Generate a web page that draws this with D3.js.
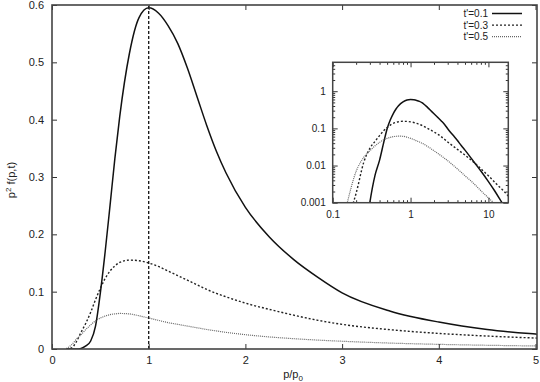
<!DOCTYPE html>
<html>
<head>
<meta charset="utf-8">
<script src="https://cdn.jsdelivr.net/npm/d3@7"></script>
<style>
  body { margin: 0; background: #fff; }
  text { font-family: "Liberation Sans", Arial, sans-serif; fill: #222; }
</style>
</head>
<body>
<svg id="chart" width="540" height="382"></svg>
<script>
// momentum grid (p/p0) shared by the three curves
const pValues = [0.15, 0.2, 0.25, 0.3, 0.35, 0.4, 0.45, 0.5, 0.55, 0.6, 0.65, 0.7, 0.8, 0.9, 1.0,
  1.1, 1.2, 1.3, 1.4, 1.5, 1.6, 1.7, 1.8, 2.0, 2.25, 2.5, 2.75, 3.0, 3.5, 4.0, 4.5, 5.0,
  6, 7, 8, 10, 12, 14, 16, 18]

const valuesT01 = [0, 0, 0.00005, 0.001, 0.0055, 0.014, 0.04, 0.098, 0.17, 0.25, 0.332, 0.405, 0.515, 0.578, 0.595,
  0.586, 0.564, 0.533, 0.49, 0.44, 0.39, 0.345, 0.307, 0.247, 0.195, 0.156, 0.125, 0.098, 0.066, 0.047, 0.034, 0.026,
  0.0158, 0.0103, 0.0071, 0.0037, 0.0021, 0.00125, 0.00078, 0.0005]
const valuesT03 = [0.0003, 0.0018, 0.012, 0.029, 0.045, 0.064, 0.086, 0.106, 0.123, 0.136, 0.145, 0.151, 0.155, 0.154, 0.15,
  0.144, 0.136, 0.128, 0.12, 0.112, 0.104, 0.097, 0.091, 0.08, 0.069, 0.059, 0.05, 0.043, 0.0336, 0.0272, 0.0226, 0.0191,
  0.014, 0.0106, 0.0082, 0.0053, 0.0036, 0.0026, 0.002, 0.0015]
const valuesT05 = [0.0008, 0.007, 0.0165, 0.025, 0.034, 0.042, 0.049, 0.054, 0.0575, 0.06, 0.0612, 0.062, 0.0612, 0.058, 0.054,
  0.05, 0.046, 0.043, 0.04, 0.037, 0.034, 0.0315, 0.029, 0.025, 0.021, 0.018, 0.0155, 0.0135, 0.0103, 0.0081, 0.0065, 0.0053,
  0.0038, 0.0028, 0.0021, 0.00135, 0.00094, 0.00069, 0.00052, 0.0004]

const seriesLabels = ["t'=0.1", "t'=0.3", "t'=0.5"]
const markerP = 1

const mainXTicks = [0, 1, 2, 3, 4, 5]
const mainYTicks = [0, 0.1, 0.2, 0.3, 0.4, 0.5, 0.6]
const insetXTicks = [0.1, 1, 10]
const insetYTicks = [0.001, 0.01, 0.1, 1]

const styles = [
  { stroke: '#111', width: 1.5, dash: null },
  { stroke: '#222', width: 1.4, dash: '2,2' },
  { stroke: '#666', width: 1.2, dash: '1,1' },
]

const series = [valuesT01, valuesT03, valuesT05].map((vals, i) => ({
  label: seriesLabels[i],
  style: styles[i],
  points: pValues.map((p, j) => ({ p, v: vals[j] })),
}))

const svg = d3.select('#chart')

// ---- main plot
const main = { left: 52, right: 537, top: 5, bottom: 349 }
const x = d3.scaleLinear().domain([0, 5]).range([main.left, main.right - 1.5])
const y = d3.scaleLinear().domain([0, 0.6]).range([main.bottom, main.top])

svg.append('clipPath').attr('id', 'clipMain')
  .append('rect')
  .attr('x', main.left).attr('y', main.top)
  .attr('width', main.right - main.left).attr('height', main.bottom - main.top)

const mainLine = d3.line()
  .x(d => x(d.p))
  .y(d => y(d.v))
  .curve(d3.curveMonotoneX)

const mainCurves = svg.append('g').attr('clip-path', 'url(#clipMain)')
series.forEach(s => {
  mainCurves.append('path')
    .datum(s.points.filter(d => d.p <= 6))
    .attr('d', mainLine)
    .attr('fill', 'none')
    .attr('stroke', s.style.stroke)
    .attr('stroke-width', s.style.width)
    .attr('stroke-dasharray', s.style.dash)
})

svg.append('line')
  .attr('x1', x(markerP)).attr('x2', x(markerP))
  .attr('y1', y(0)).attr('y2', y(0.6))
  .attr('stroke', '#111')
  .attr('stroke-width', 1.3)
  .attr('stroke-dasharray', '3,2')

function styleAxis(g) {
  g.select('.domain').remove()
  g.selectAll('line').attr('stroke', '#333').attr('stroke-width', 1)
  g.selectAll('text').attr('fill', '#222')
}

const yFmt = d => (d === 0 ? '0' : d3.format('.1f')(d))

svg.append('g')
  .attr('transform', `translate(0,${main.bottom})`)
  .call(d3.axisBottom(x).tickValues(mainXTicks).tickFormat(d3.format('d'))
    .tickSizeInner(-5).tickSizeOuter(0).tickPadding(7))
  .call(styleAxis)
  .selectAll('text').style('font-size', '11px')
svg.append('g')
  .attr('transform', `translate(0,${main.top})`)
  .call(d3.axisTop(x).tickValues(mainXTicks).tickFormat('')
    .tickSizeInner(-5).tickSizeOuter(0))
  .call(styleAxis)
svg.append('g')
  .attr('transform', `translate(${main.left},0)`)
  .call(d3.axisLeft(y).tickValues(mainYTicks).tickFormat(yFmt)
    .tickSizeInner(-5).tickSizeOuter(0).tickPadding(8))
  .call(styleAxis)
  .selectAll('text').style('font-size', '11px')
svg.append('g')
  .attr('transform', `translate(${main.right},0)`)
  .call(d3.axisRight(y).tickValues(mainYTicks).tickFormat('')
    .tickSizeInner(-5).tickSizeOuter(0))
  .call(styleAxis)

svg.append('rect')
  .attr('x', main.left).attr('y', main.top)
  .attr('width', main.right - main.left).attr('height', main.bottom - main.top)
  .attr('fill', 'none').attr('stroke', '#444').attr('stroke-width', 1.6)

// axis titles
const xTitle = svg.append('text')
  .attr('x', 293).attr('y', 378)
  .attr('text-anchor', 'middle')
  .style('font-size', '11px')
xTitle.append('tspan').text('p/p')
xTitle.append('tspan').attr('dy', 3).style('font-size', '8px').text('0')

const yTitle = svg.append('text')
  .attr('transform', 'translate(15,180) rotate(-90)')
  .attr('text-anchor', 'middle')
  .style('font-size', '11px')
yTitle.append('tspan').text('p')
yTitle.append('tspan').attr('dy', -4).style('font-size', '8px').text('2')
yTitle.append('tspan').attr('dy', 4).text(' f(p,t)')

// legend
const legend = svg.append('g')
series.forEach((s, i) => {
  const cy = 13.5 + i * 11.6
  legend.append('text')
    .attr('x', 488).attr('y', cy + 3.6)
    .attr('text-anchor', 'end')
    .style('font-size', '10px')
    .text(s.label)
  legend.append('line')
    .attr('x1', 492).attr('x2', 522)
    .attr('y1', cy).attr('y2', cy)
    .attr('stroke', s.style.stroke)
    .attr('stroke-width', s.style.width)
    .attr('stroke-dasharray', s.style.dash)
})

// ---- inset (log-log)
const inset = { left: 332.7, right: 508.3, top: 62.3, bottom: 202.7 }
const ix = d3.scaleLog().domain([0.1, 18]).range([inset.left, inset.right])
const iy = d3.scaleLog().domain([0.001, 6]).range([inset.bottom, inset.top])

svg.append('rect')
  .attr('x', inset.left).attr('y', inset.top)
  .attr('width', inset.right - inset.left).attr('height', inset.bottom - inset.top)
  .attr('fill', '#fff')

svg.append('clipPath').attr('id', 'clipInset')
  .append('rect')
  .attr('x', inset.left).attr('y', inset.top)
  .attr('width', inset.right - inset.left).attr('height', inset.bottom - inset.top)

const insetLine = d3.line()
  .x(d => ix(d.p))
  .y(d => iy(d.v))
  .curve(d3.curveMonotoneX)

const insetCurves = svg.append('g').attr('clip-path', 'url(#clipInset)')
series.forEach(s => {
  insetCurves.append('path')
    .datum(s.points.filter(d => d.v > 0))
    .attr('d', insetLine)
    .attr('fill', 'none')
    .attr('stroke', s.style.stroke)
    .attr('stroke-width', s.style.width)
    .attr('stroke-dasharray', s.style.dash)
})

const minorX = []
insetXTicks.forEach(dec => d3.range(2, 10).forEach(k => { if (dec * k < 18) minorX.push(dec * k) }))
const minorY = []
insetYTicks.forEach(dec => d3.range(2, 10).forEach(k => { if (dec * k < 6) minorY.push(dec * k) }))

const insetAxes = [
  { make: () => d3.axisBottom(ix), at: `translate(0,${inset.bottom})`, vals: insetXTicks, minor: minorX, labels: true, pad: 8 },
  { make: () => d3.axisTop(ix), at: `translate(0,${inset.top})`, vals: insetXTicks, minor: minorX, labels: false },
  { make: () => d3.axisLeft(iy), at: `translate(${inset.left},0)`, vals: insetYTicks, minor: minorY, labels: true, pad: 7 },
  { make: () => d3.axisRight(iy), at: `translate(${inset.right},0)`, vals: insetYTicks, minor: minorY, labels: false },
]
insetAxes.forEach(a => {
  svg.append('g')
    .attr('transform', a.at)
    .call(a.make().tickValues(a.minor).tickFormat('').tickSizeInner(-2.5).tickSizeOuter(0))
    .call(styleAxis)
  const g = svg.append('g')
    .attr('transform', a.at)
    .call(a.make().tickValues(a.vals)
      .tickFormat(a.labels ? d => String(d) : '')
      .tickSizeInner(-5).tickSizeOuter(0).tickPadding(a.pad || 3))
    .call(styleAxis)
  g.selectAll('text').style('font-size', '10px')
})

svg.append('rect')
  .attr('x', inset.left).attr('y', inset.top)
  .attr('width', inset.right - inset.left).attr('height', inset.bottom - inset.top)
  .attr('fill', 'none').attr('stroke', '#444').attr('stroke-width', 1.5)
</script>
</body>
</html>
